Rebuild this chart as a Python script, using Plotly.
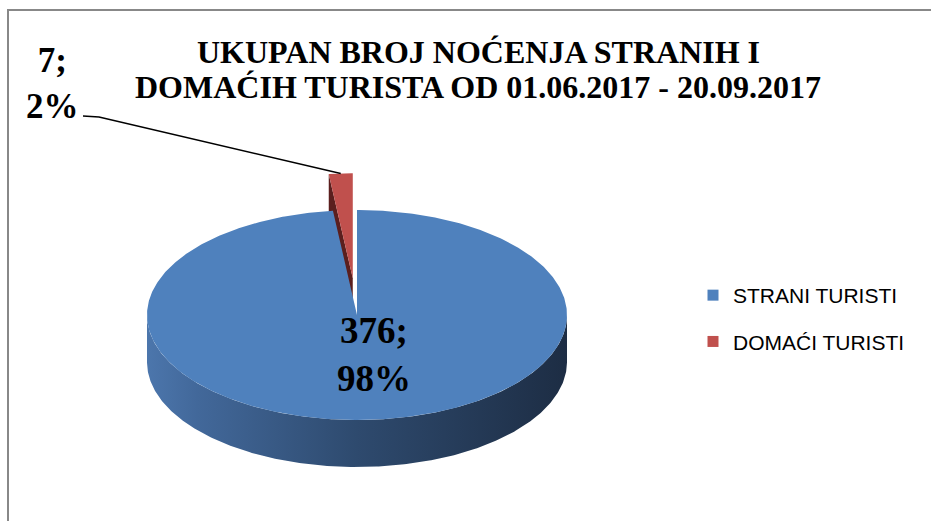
import numpy as np
import plotly.graph_objects as go

# ---------------- data ----------------
categories = ["STRANI TURISTI", "DOMAĆI TURISTI"]
values = [376, 7]
title_lines = ["UKUPAN BROJ NOĆENJA STRANIH I",
               "DOMAĆIH TURISTA OD 01.06.2017 - 20.09.2017"]

# ---------------- style / geometry ----------------
W, H = 931, 521
CX, CY, RX, RY, DEPTH = 357, 315, 210, 105, 47
EXPLODE = [0.0, 0.35]
START_ANGLE = 90
top_colors = ["#4F81BD", "#C0504D"]
cut_colors = ["#2c4a6e", "#5b1f1e"]
side_scales = [
    [[0, "#4c76ac"], [0.12, "#42689a"], [0.5, "#2e4a6e"], [1, "#1d2d44"]],
    [[0, "#8a3432"], [1, "#4a1918"]],
]
label_pos = [(374, 354), (52, 83)]
label_font = [37, 35]
leader_start = [(83, 116), (99, 117)]

total = float(sum(values))
fracs = [v / total for v in values]


def pt(theta, r=1.0, dx=0.0, dy=0.0, z=0.0):
    t = np.radians(theta)
    return CX + dx + r * RX * np.cos(t), CY + dy - r * RY * np.sin(t) + z


slices = []
cum = 0.0
for i, f in enumerate(fracs):
    a0 = START_ANGLE - cum * 360
    a1 = a0 - f * 360
    mid = (a0 + a1) / 2
    e = EXPLODE[i]
    dx = e * RX * np.cos(np.radians(mid))
    dy = -e * RY * np.sin(np.radians(mid))
    slices.append(dict(i=i, a0=a0, a1=a1, mid=mid, dx=dx, dy=dy))
    cum += f

# draw back slices first
order = sorted(slices, key=lambda s: -np.sin(np.radians(s["mid"])))

fig = go.Figure()

for s in order:
    i = s["i"]
    a0, a1, dx, dy = s["a0"], s["a1"], s["dx"], s["dy"]
    cx0, cy0 = pt(0, r=0, dx=dx, dy=dy)
    # cut faces (visible when facing the viewer)
    for ang, nrm in ((a0, a0 + 90), (a1, a1 - 90)):
        if np.sin(np.radians(nrm)) < -1e-6:
            ox, oy = pt(ang, dx=dx, dy=dy)
            xs = [cx0, ox, ox, cx0, cx0]
            ys = [cy0, oy, oy + DEPTH, cy0 + DEPTH, cy0]
            fig.add_trace(go.Scatter(x=xs, y=ys, mode="lines", fill="toself",
                                     fillcolor=cut_colors[i], line=dict(width=0),
                                     hoverinfo="skip", showlegend=False))
    # outer side face (front half only)
    th = np.linspace(a0, a1, 600)
    vis = th[np.sin(np.radians(th)) <= 1e-9]
    if len(vis) > 1:
        tx, ty = pt(vis, dx=dx, dy=dy)
        bx, by = pt(vis[::-1], dx=dx, dy=dy, z=DEPTH)
        xs = np.concatenate([tx, bx, tx[:1]])
        ys = np.concatenate([ty, by, ty[:1]])
        fig.add_trace(go.Scatter(x=xs, y=ys, mode="lines", fill="toself",
                                 fillgradient=dict(type="horizontal",
                                                   colorscale=side_scales[i]),
                                 line=dict(width=0), hoverinfo="skip",
                                 showlegend=False))
    # top face
    ax, ay = pt(th, dx=dx, dy=dy)
    xs = np.concatenate([[cx0], ax, [cx0]])
    ys = np.concatenate([[cy0], ay, [cy0]])
    fig.add_trace(go.Scatter(x=xs, y=ys, mode="lines", fill="toself",
                             fillcolor=top_colors[i], line=dict(width=0),
                             hoverinfo="text", text=categories[i],
                             showlegend=False))

# leader line for the small slice
small = slices[1]
ex, ey = pt(small["mid"], dx=small["dx"], dy=small["dy"])
fig.add_trace(go.Scatter(x=[leader_start[0][0], leader_start[1][0], ex],
                         y=[leader_start[0][1], leader_start[1][1], ey],
                         mode="lines", line=dict(color="black", width=1.5),
                         hoverinfo="skip", showlegend=False))

# legend entries
for i, c in enumerate(categories):
    fig.add_trace(go.Scatter(x=[None], y=[None], mode="markers", name=c,
                             legendgroup=f"g{i}",
                             marker=dict(symbol="square", size=11,
                                         color=top_colors[i])))

# data labels
for i, v in enumerate(values):
    pct = round(100 * v / total)
    fig.add_annotation(x=label_pos[i][0], y=label_pos[i][1],
                       text=f"<b>{v};<br>{pct}%</b>", showarrow=False,
                       align="center", xanchor="center", yanchor="middle",
                       font=dict(family="Liberation Serif", size=label_font[i],
                                 color="black"))

# title (two lines)
for k, (line, yy) in enumerate(zip(title_lines, [52, 87])):
    fig.add_annotation(x=478, y=yy, text=f"<b>{line}</b>", showarrow=False,
                       xanchor="center", yanchor="middle",
                       font=dict(family="Liberation Serif", size=32,
                                 color="black"))

# chart border (only left & top inside the view)
fig.add_shape(type="rect", x0=8, y0=10, x1=W + 10, y1=H + 10,
              line=dict(color="#888888", width=2), layer="above")

fig.update_layout(
    width=W, height=H,
    margin=dict(l=0, r=0, t=0, b=0),
    paper_bgcolor="white", plot_bgcolor="white",
    xaxis=dict(range=[0, W], visible=False, fixedrange=True),
    yaxis=dict(range=[H, 0], visible=False, fixedrange=True),
    showlegend=True,
    legend=dict(x=693 / W, y=1 - 318.5 / H, xanchor="left", yanchor="middle",
                font=dict(family="Liberation Sans", size=21, color="black"),
                tracegroupgap=16, bgcolor="rgba(0,0,0,0)"),
)

fig.write_html("out.html",
               config={"displayModeBar": False},
               post_script="document.body.style.margin='0px';"
                           "document.body.style.overflow='hidden';")
